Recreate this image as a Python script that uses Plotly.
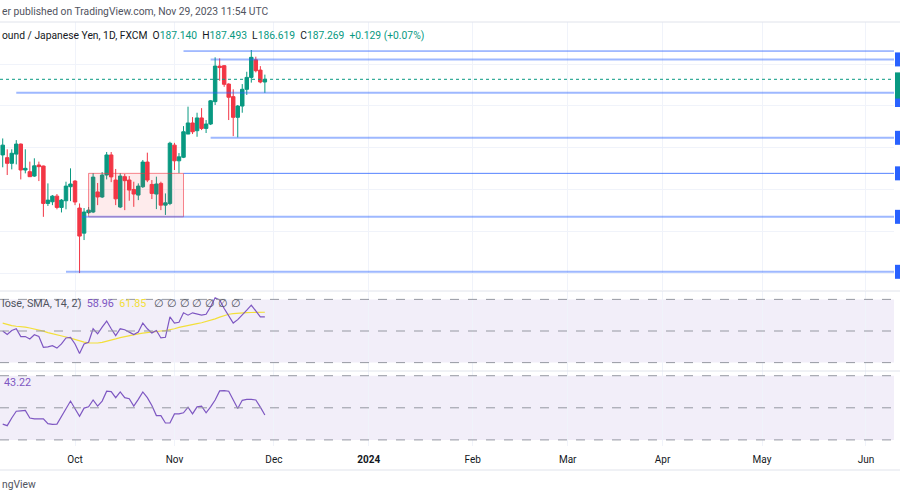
import pandas as pd
import plotly.graph_objects as go

# ---------------- data ----------------
trading_days = pd.bdate_range("2023-09-08", "2024-07-05")

opens = [183.65, 183.52, 183.25, 183.69, 184.17, 182.93, 182.85, 182.64, 183.17, 183.12,
         181.33, 181.41, 181.68, 181.14, 181.46, 182.13, 182.40, 181.11, 179.91, 180.89,
         180.92, 181.88, 181.64, 182.69, 183.65, 182.45, 181.16, 182.61, 182.45, 182.00,
         181.73, 182.13, 183.31, 182.24, 181.78, 182.29, 181.25, 181.33, 184.12, 183.37,
         183.54, 184.65, 185.18, 184.81, 185.42, 184.92, 185.13, 186.20, 187.90, 187.92,
         187.04, 186.44, 185.45, 185.99, 186.79, 187.36, 188.20, 187.71, 187.140]
highs = [184.44, 183.92, 183.92, 184.36, 184.20, 183.92, 183.33, 183.49, 183.33, 183.14,
         182.29, 181.73, 181.78, 181.54, 182.37, 183.01, 182.45, 181.33, 181.11, 181.16,
         182.78, 182.31, 182.83, 183.79, 183.79, 182.98, 182.78, 182.74, 182.64, 182.37,
         182.29, 183.41, 183.76, 182.45, 182.61, 182.37, 181.81, 184.28, 184.23, 183.74,
         185.03, 185.96, 185.46, 185.67, 185.89, 185.32, 186.28, 188.32, 188.27, 187.95,
         187.08, 186.79, 186.04, 187.04, 187.63, 188.67, 188.35, 187.90, 187.493]
lows = [183.06, 182.69, 182.96, 183.20, 182.48, 182.77, 182.60, 182.60, 182.40, 180.69,
        181.21, 181.25, 181.05, 180.90, 181.05, 181.44, 181.25, 178.00, 179.58, 180.82,
        180.87, 181.25, 181.59, 182.48, 182.35, 181.25, 181.11, 181.01, 181.46, 181.17,
        181.49, 182.07, 182.35, 181.54, 181.06, 181.01, 180.78, 181.25, 182.93, 182.78,
        183.50, 184.65, 184.65, 184.52, 184.84, 184.70, 185.08, 186.04, 187.20, 186.91,
        185.32, 184.55, 184.49, 185.67, 186.52, 187.11, 187.60, 187.08, 186.619]
closes = [184.12, 183.25, 183.73, 184.17, 182.93, 183.01, 182.61, 183.13, 183.09, 181.33,
          181.49, 181.68, 181.14, 181.49, 182.16, 182.26, 181.40, 179.77, 180.92, 181.01,
          182.59, 181.64, 182.69, 183.65, 182.60, 181.55, 182.64, 182.42, 181.97, 181.78,
          182.16, 183.31, 182.45, 181.81, 182.26, 181.25, 181.36, 184.21, 183.37, 183.56,
          184.76, 185.18, 184.76, 185.42, 184.92, 185.13, 186.24, 187.90, 187.83, 187.03,
          186.41, 185.45, 185.99, 186.79, 187.36, 188.32, 187.68, 187.14, 187.269]

rsi = [50.0, 47.8, 50.3, 51.4, 46.5, 46.5, 45.0, 47.6, 46.5, 39.7,
       40.0, 40.7, 39.2, 41.8, 45.6, 46.0, 41.8, 35.8, 41.8, 42.9,
       51.4, 48.2, 52.5, 56.3, 51.4, 47.1, 51.4, 50.8, 49.3, 47.8,
       49.3, 55.0, 51.4, 48.8, 50.3, 45.6, 46.0, 58.9, 55.0, 55.5,
       61.5, 60.0, 61.5, 60.6, 60.0, 60.6, 65.3, 71.0, 69.6, 64.2,
       60.0, 55.0, 57.2, 60.0, 63.2, 66.4, 62.7, 58.9, 58.96]
rsi_sma = [55.0, 54.0, 53.4, 53.0, 52.8, 52.4, 51.9, 51.3, 50.6, 49.9,
           49.0, 48.2, 47.5, 46.9, 46.2, 45.5, 44.6, 43.6, 43.0, 42.5,
           42.3, 42.4, 42.8, 43.4, 44.2, 45.0, 45.8, 46.5, 47.1, 47.7,
           48.2, 48.7, 49.1, 49.5, 49.8, 50.0, 50.2, 50.7, 51.4, 52.3,
           53.0, 53.7, 54.2, 54.7, 55.2, 55.9, 56.6, 57.7, 58.8, 59.8,
           60.6, 61.0, 61.3, 61.5, 61.6, 61.7, 61.8, 61.85, 61.85]
osc = [34.8, 33.3, 40.5, 46.8, 47.2, 47.5, 40.5, 39.6, 39.6, 39.6,
       35.2, 34.5, 34.8, 42.1, 50.0, 56.3, 49.1, 42.1, 49.7, 50.9,
       57.3, 51.6, 56.3, 65.5, 65.2, 59.5, 64.8, 59.5, 58.5, 51.6,
       57.9, 64.8, 59.5, 52.2, 42.7, 42.7, 35.8, 35.8, 44.3, 44.3,
       45.3, 50.6, 44.3, 50.9, 51.6, 45.3, 50.9, 57.3, 65.8, 66.1,
       65.5, 57.9, 49.4, 57.0, 57.9, 57.9, 57.3, 50.6, 43.22]

# drawn horizontal levels (price) and the bar where each ray begins
levels = [188.62, 188.22, 186.63, 184.47, 182.77, 180.69, 178.06]
level_start_bar = [40, 46, 3, 46, 40, 17.5, 14]
box_bars = [19, 40]
box_prices = [180.69, 182.77]
last_price = 187.269

tick_dates = ["2023-10-02", "2023-11-01", "2023-12-01", "2024-01-01", "2024-02-01",
              "2024-03-01", "2024-04-01", "2024-05-01", "2024-06-03"]
tick_labels = ["Oct", "Nov", "Dec", "<b>2024</b>", "Feb", "Mar", "Apr", "May", "Jun"]

# ---------------- styles ----------------
UP = "#089981"
DOWN = "#F23645"
PURPLE = "#7E57C2"
YELLOW = "#F2DF3A"
BLUE = "#2962FF"
GRID = "#F0F3FA"
SEP = "#E0E3EB"
FONT = "Roboto"
W, H = 900, 500
PLOT_W = 894
level_thin = [True, False, False, False, True, False, False]

day_index = {d.strftime("%Y-%m-%d"): i for i, d in enumerate(trading_days)}
tick_vals = [day_index[d] for d in tick_dates]
bars = list(range(len(opens)))

XR = [-0.6, 197.2]
Y1 = [177.19, 190.01]
Y2 = [24.7, 75.3]
Y3 = [14.3, 84.4]


def py(pix):
    return 1 - pix / H


fig = go.Figure()
fig.add_trace(go.Candlestick(
    x=bars, open=opens, high=highs, low=lows, close=closes,
    increasing=dict(line=dict(color=UP, width=1), fillcolor=UP),
    decreasing=dict(line=dict(color=DOWN, width=1), fillcolor=DOWN),
    whiskerwidth=0, xaxis="x", yaxis="y", showlegend=False, hoverinfo="skip"))
fig.add_trace(go.Scatter(x=bars, y=rsi_sma, mode="lines", line=dict(color=YELLOW, width=1.2),
                         xaxis="x2", yaxis="y2", showlegend=False, hoverinfo="skip"))
fig.add_trace(go.Scatter(x=bars, y=rsi, mode="lines", line=dict(color=PURPLE, width=1.2),
                         xaxis="x2", yaxis="y2", showlegend=False, hoverinfo="skip"))
fig.add_trace(go.Scatter(x=bars, y=osc, mode="lines", line=dict(color=PURPLE, width=1.2),
                         xaxis="x3", yaxis="y3", showlegend=False, hoverinfo="skip"))

shapes = []
shapes.append(dict(type="rect", xref="x2", yref="y2", x0=XR[0], x1=XR[1], y0=30, y1=70,
                   fillcolor="rgba(126,87,194,0.10)", line=dict(width=0), layer="below"))
shapes.append(dict(type="rect", xref="x3", yref="y3", x0=XR[0], x1=XR[1], y0=20, y1=80,
                   fillcolor="rgba(126,87,194,0.10)", line=dict(width=0), layer="below"))
for v in (30, 50, 70):
    shapes.append(dict(type="line", xref="x2", yref="y2", x0=XR[0], x1=XR[1], y0=v, y1=v,
                       line=dict(color="#9598A1", width=1, dash="dash")))
for v in (20, 50, 80):
    shapes.append(dict(type="line", xref="x3", yref="y3", x0=XR[0], x1=XR[1], y0=v, y1=v,
                       line=dict(color="#9598A1", width=1, dash="dash")))

shapes.append(dict(type="rect", xref="x", yref="y", x0=box_bars[0], x1=box_bars[1],
                   y0=box_prices[0], y1=box_prices[1],
                   fillcolor="rgba(242,54,69,0.10)", line=dict(color="rgba(242,54,69,0.6)", width=1)))

for lv, st, thin in zip(levels, level_start_bar, level_thin):
    if thin:
        shapes.append(dict(type="line", xref="x", yref="y", x0=st, x1=XR[1], y0=lv, y1=lv,
                           line=dict(color="rgba(41,98,255,0.8)", width=1)))
    else:
        shapes.append(dict(type="line", xref="x", yref="y", x0=st, x1=XR[1], y0=lv, y1=lv,
                           line=dict(color="rgba(41,98,255,0.45)", width=2)))

shapes.append(dict(type="line", xref="x", yref="y", x0=XR[0], x1=XR[1], y0=last_price, y1=last_price,
                   line=dict(color=UP, width=1, dash="dot")))

half = 7 / 20.9
for lv in levels[1:]:
    y0, y1 = lv - half, lv + half
    if lv == levels[2]:
        y0, y1 = lv - half - 0.35, lv - half + 0.3
    shapes.append(dict(type="rect", xref="paper", yref="y", x0=895 / PLOT_W, x1=1.03,
                       y0=y0, y1=y1, fillcolor=BLUE, line=dict(width=0)))
shapes.append(dict(type="rect", xref="paper", yref="y", x0=895 / PLOT_W, x1=1.03,
                   y0=last_price - 0.92, y1=last_price + 0.33, fillcolor=UP, line=dict(width=0)))

for pix in (22, 291, 371, 470):
    shapes.append(dict(type="line", xref="paper", yref="paper", x0=0, x1=1.02, y0=py(pix), y1=py(pix),
                       line=dict(color=SEP, width=1)))

fig.update_layout(shapes=shapes)

TXT = 10.3
ann = []
ann.append(dict(text="er published on TradingView.com, Nov 29, 2023 11:54 UTC",
                x=0, y=py(11), xref="paper", yref="paper", xanchor="left", yanchor="middle",
                showarrow=False, font=dict(family=FONT, size=TXT, color="#50535E")))
g = lambda s: f"<span style='color:{UP}'>{s}</span>"
ann.append(dict(text="ound / Japanese Yen, 1D, FXCM&nbsp;&nbsp;O" + g("187.140") + "&nbsp;&nbsp;H" + g("187.493")
                + "&nbsp;&nbsp;L" + g("186.619") + "&nbsp;&nbsp;C" + g("187.269") + "&nbsp;&nbsp;" + g("+0.129 (+0.07%)"),
                x=0, y=py(35), xref="paper", yref="paper", xanchor="left", yanchor="middle",
                showarrow=False, font=dict(family=FONT, size=TXT, color="#131722")))
empties = "&nbsp;".join(["∅"] * 7)
ann.append(dict(text="lose, SMA, 14, 2)&nbsp;&nbsp;<span style='color:%s'>58.96</span>&nbsp;&nbsp;<span style='color:%s'>61.85</span>&nbsp;&nbsp;&nbsp;" % (PURPLE, YELLOW) + empties,
                x=0, y=py(303), xref="paper", yref="paper", xanchor="left", yanchor="middle",
                showarrow=False, font=dict(family=FONT, size=10.8, color="#50535E")))
ann.append(dict(text="43.22", x=2 / PLOT_W, y=py(382), xref="paper", yref="paper", xanchor="left",
                yanchor="middle", showarrow=False, font=dict(family=FONT, size=10.8, color=PURPLE)))
ann.append(dict(text="ngView", x=0, y=py(484), xref="paper", yref="paper", xanchor="left",
                yanchor="middle", showarrow=False, font=dict(family=FONT, size=TXT, color="#50535E")))
fig.update_layout(annotations=ann)

xcommon = dict(range=XR, showgrid=True, gridcolor=GRID, gridwidth=1, zeroline=False,
               tickmode="array", tickvals=tick_vals, ticktext=tick_labels, showline=False,
               ticks="", fixedrange=True)
fig.update_layout(
    width=W, height=H,
    margin=dict(l=0, r=W - PLOT_W, t=0, b=0),
    paper_bgcolor="white", plot_bgcolor="white",
    showlegend=False,
    boxgap=0.15, boxgroupgap=0.1,
    xaxis=dict(**xcommon, domain=[0, 1], anchor="y", showticklabels=False,
               rangeslider=dict(visible=False)),
    xaxis2=dict(**xcommon, domain=[0, 1], anchor="y2", showticklabels=False, matches="x"),
    xaxis3=dict(**xcommon, domain=[0, 1], anchor="y3", showticklabels=True, matches="x",
                tickfont=dict(family=FONT, size=10, color="#131722"), ticklabelstandoff=6),
    yaxis=dict(range=Y1, domain=[py(290), py(22)], showgrid=True, gridcolor=GRID, dtick=2, tick0=178,
               showticklabels=False, zeroline=False, fixedrange=True),
    yaxis2=dict(range=Y2, domain=[py(371), py(291)], showgrid=False, showticklabels=False,
                zeroline=False, fixedrange=True),
    yaxis3=dict(range=Y3, domain=[py(446), py(371)], showgrid=False, showticklabels=False,
                zeroline=False, fixedrange=True),
)

fig.write_html("out.html", config={"displayModeBar": False},
               post_script="document.body.style.margin='0';document.body.style.overflow='hidden';")
